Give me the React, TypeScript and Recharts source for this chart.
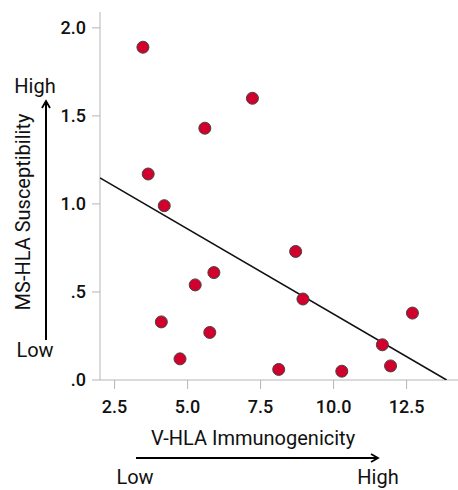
import React from 'react'
import { ScatterChart, Scatter, XAxis, YAxis } from 'recharts'

// V-HLA immunogenicity (x) vs MS-HLA susceptibility (y)
const immunogenicity = [3.47, 7.22, 5.59, 3.65, 4.2, 8.7, 5.9, 5.26, 8.95, 12.7, 4.1, 5.76, 11.67, 4.74, 8.12, 10.28, 11.95]
const susceptibility = [1.89, 1.6, 1.43, 1.17, 0.99, 0.73, 0.61, 0.54, 0.46, 0.38, 0.33, 0.27, 0.2, 0.12, 0.06, 0.05, 0.08]

// fitted line end points
const fitX = [2.0, 13.87]
const fitY = [1.148, 0]

const xTicks = [2.5, 5, 7.5, 10, 12.5]
const xTickLabels = ['2.5', '5.0', '7.5', '10.0', '12.5']
const yTicks = [0, 0.5, 1, 1.5, 2]
const yTickLabels = ['.0', '.5', '1.0', '1.5', '2.0']

const points = immunogenicity.map((x, i) => ({ x, y: susceptibility[i] }))
const fit = fitX.map((x, i) => ({ x, y: fitY[i] }))

const font = 'Roboto, sans-serif'
const tickStyle = { fontSize: 18, fill: '#111', fontFamily: font, fontWeight: 500 }

const NoShape = () => <g />
const Dot = (props: any) => (
  <circle cx={props.cx} cy={props.cy} r={6} fill="#d2002c" stroke="#444" strokeWidth={1} />
)

const App: React.FC = () => {
  return (
    <div style={{ position: 'absolute', left: 0, top: 0, width: 458, height: 490, background: '#fff' }}>
      <ScatterChart width={458} height={490} margin={{ top: 12, right: 0, bottom: 80, left: 0 }}>
        <XAxis
          type="number"
          dataKey="x"
          domain={[2, 14.26]}
          ticks={xTicks}
          tickFormatter={(v: number) => xTickLabels[xTicks.indexOf(v)]}
          allowDataOverflow
          height={30}
          tickSize={9}
          tickMargin={11}
          stroke="#b5b5b5"
          tick={tickStyle}
        />
        <YAxis
          type="number"
          dataKey="y"
          domain={[0, 2.09]}
          ticks={yTicks}
          tickFormatter={(v: number) => yTickLabels[yTicks.indexOf(v)]}
          allowDataOverflow
          width={100}
          tickSize={8}
          tickMargin={6}
          stroke="#b5b5b5"
          tick={tickStyle}
        />
        <Scatter
          data={fit}
          line={{ stroke: '#111', strokeWidth: 1.6 }}
          shape={NoShape}
          isAnimationActive={false}
        />
        <Scatter data={points} shape={Dot} isAnimationActive={false} />
      </ScatterChart>
      <svg width={458} height={490} style={{ position: 'absolute', left: 0, top: 0, pointerEvents: 'none' }}>
        <defs>
          <marker id="arr" markerWidth="10" markerHeight="10" refX="8" refY="5" orient="auto" markerUnits="userSpaceOnUse">
            <path d="M1,1 L8,5 L1,9" fill="none" stroke="#000" strokeWidth="1.8" />
          </marker>
        </defs>
        <g fontFamily={font} fill="#111" fontWeight={400}>
          <text x={253} y={445} fontSize={20} textAnchor="middle">V-HLA Immunogenicity</text>
          <text x={135} y={484} fontSize={20} textAnchor="middle">Low</text>
          <text x={378} y={484} fontSize={20} textAnchor="middle">High</text>
          <text x={30} y={212} fontSize={20} textAnchor="middle" transform="rotate(-90 30 212)">MS-HLA Susceptibility</text>
          <text x={35} y={93} fontSize={20} textAnchor="middle">High</text>
          <text x={35} y={357} fontSize={20} textAnchor="middle">Low</text>
        </g>
        <line x1={136} y1={458} x2={378} y2={458} stroke="#000" strokeWidth={2} markerEnd="url(#arr)" />
        <line x1={46} y1={340} x2={46} y2={101} stroke="#000" strokeWidth={2} markerEnd="url(#arr)" />
      </svg>
    </div>
  )
}

export default App
